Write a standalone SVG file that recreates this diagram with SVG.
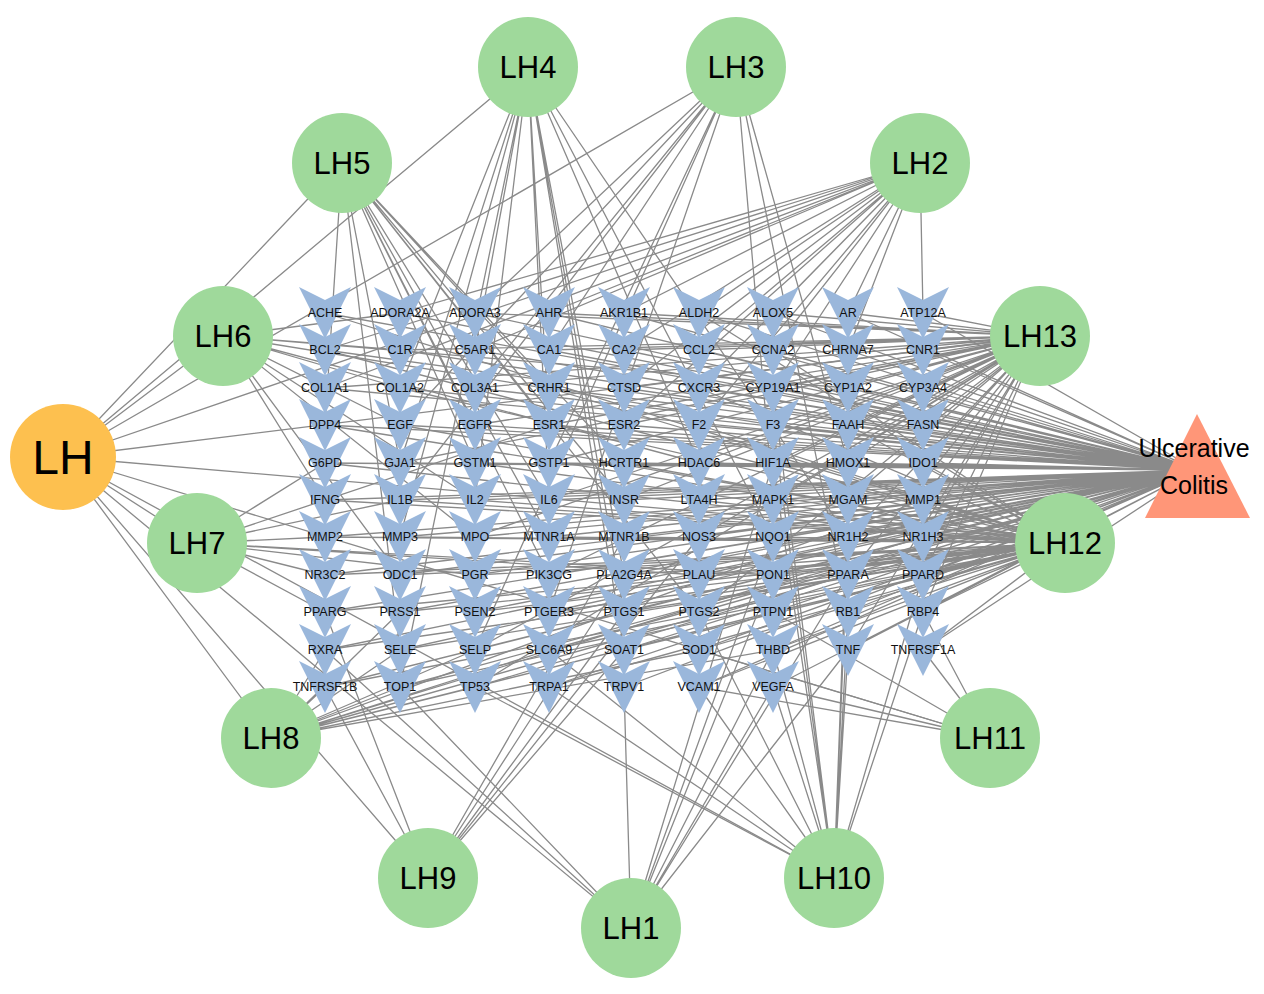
<svg xmlns="http://www.w3.org/2000/svg" xmlns:xlink="http://www.w3.org/1999/xlink" width="1264" height="994" viewBox="0 0 1264 994">
<style>
.e{fill:none;stroke:#8a8a8a;stroke-width:1.3}
.c{fill:#9FD99B}
.h{fill:#FDC04F}
.t{fill:#FF9678}
.v{fill:#9AB7DB}
.lt{font-family:"Liberation Sans",Arial,sans-serif;font-size:12.5px;fill:#111;text-anchor:middle;dominant-baseline:central}
.lc{font-family:"Liberation Sans",Arial,sans-serif;font-size:31px;fill:#000;text-anchor:middle;dominant-baseline:central}
</style>
<defs>
<path id="chev" d="M-26,-26 L0,-13 L26,-26 L0,26 Z"/>
</defs>
<rect width="1264" height="994" fill="#fff"/>
<g id="edges">
<path class="e" id="e-LH" d="M63 457L631 928M63 457L920 163M63 457L736 67M63 457L528 67M63 457L342 163M63 457L223 336M63 457L197 543M63 457L271 738M63 457L428 878M63 457L834 878M63 457L990 738M63 457L1065 543M63 457L1040 336"/>
<path class="e" id="e-LH4" d="M528 67L400 388M528 67L400 687M528 67L475 500M528 67L549 500M528 67L624 612M528 67L624 650M528 67L624 575M528 67L475 350M528 67L549 425M528 67L400 537M528 67L699 463M528 67L773 537M528 67L848 537M528 67L400 463"/>
<path class="e" id="e-LH3" d="M736 67L549 350M736 67L549 463M736 67L400 425M736 67L475 388M736 67L475 313M736 67L400 500M736 67L549 612M736 67L848 463M736 67L848 612M736 67L773 500M736 67L475 650"/>
<path class="e" id="e-LH2" d="M920 163L923 313M920 163L400 313M920 163L549 313M920 163L624 313M920 163L699 313M920 163L773 313M920 163L848 313M920 163L699 350M920 163L773 350M920 163L848 350M920 163L624 350M920 163L475 350M920 163L325 388M920 163L325 350M920 163L624 388M920 163L773 388M920 163L624 425M920 163L699 425M920 163L699 388"/>
<path class="e" id="e-LH5" d="M342 163L325 425M342 163L400 463M342 163L475 425M342 163L549 388M342 163L549 425M342 163L475 463M342 163L549 500M342 163L549 537M342 163L549 575M342 163L699 612M342 163L624 500M342 163L624 463M342 163L400 650"/>
<path class="e" id="e-LH6" d="M223 336L400 313M223 336L400 350M223 336L400 388M223 336L400 425M223 336L699 463M223 336L848 388M223 336L773 425M223 336L325 500M223 336L475 500M223 336L475 537M223 336L400 575"/>
<path class="e" id="e-LH7" d="M197 543L325 537M197 543L325 575M197 543L475 575M197 543L699 575M197 543L400 500M197 543L325 463M197 543L549 425M197 543L773 575M197 543L325 612"/>
<path class="e" id="e-LH8" d="M271 738L325 687M271 738L400 687M271 738L475 687M271 738L325 650M271 738L400 650M271 738L475 650M271 738L549 650M271 738L699 650M271 738L773 650M271 738L773 612M271 738L848 575M271 738L923 537M271 738L923 500M271 738L400 612"/>
<path class="e" id="e-LH9" d="M428 878L325 687M428 878L325 612M428 878L624 650M428 878L624 612M428 878L624 575M428 878L699 537M428 878L624 537"/>
<path class="e" id="e-LH1" d="M631 928L624 687M631 928L773 687M631 928L773 650M631 928L773 575M631 928L773 537M631 928L848 650M631 928L848 575M631 928L400 687M631 928L325 650M631 928L773 463"/>
<path class="e" id="e-LH10" d="M834 878L699 687M834 878L549 687M834 878L549 650M834 878L773 687M834 878L773 650M834 878L848 650M834 878L923 575M834 878L923 612M834 878L848 500M834 878L773 463M834 878L773 425M834 878L773 388M834 878L848 612M834 878L475 687M834 878L848 537M834 878L699 612"/>
<path class="e" id="e-LH11" d="M990 738L923 650M990 738L923 612M990 738L699 687M990 738L699 650M990 738L773 612M990 738L773 687"/>
<path class="e" id="e-LH13" d="M1040 336L475 313M1040 336L549 313M1040 336L624 313M1040 336L773 313M1040 336L848 313M1040 336L923 313M1040 336L400 350M1040 336L549 350M1040 336L624 350M1040 336L699 350M1040 336L848 350M1040 336L923 350M1040 336L325 388M1040 336L475 388M1040 336L624 388M1040 336L773 388M1040 336L848 388M1040 336L923 388M1040 336L475 425M1040 336L549 425M1040 336L624 425M1040 336L773 425M1040 336L848 425M1040 336L923 425M1040 336L400 463M1040 336L549 463M1040 336L699 463M1040 336L773 463M1040 336L848 463M1040 336L923 463M1040 336L549 500M1040 336L624 500M1040 336L773 500M1040 336L848 500M1040 336L923 500M1040 336L475 537M1040 336L699 537M1040 336L848 537M1040 336L923 537M1040 336L549 575M1040 336L848 575M1040 336L923 575M1040 336L699 612M1040 336L923 612M1040 336L475 650M1040 336L848 650M1040 336L475 687"/>
<path class="e" id="e-LH12" d="M1065 543L325 313M1065 543L699 313M1065 543L325 350M1065 543L773 350M1065 543L400 388M1065 543L549 388M1065 543L699 388M1065 543L325 425M1065 543L400 425M1065 543L699 425M1065 543L848 425M1065 543L325 463M1065 543L475 463M1065 543L624 463M1065 543L773 463M1065 543L923 463M1065 543L325 500M1065 543L400 500M1065 543L475 500M1065 543L699 500M1065 543L923 500M1065 543L325 537M1065 543L400 537M1065 543L549 537M1065 543L624 537M1065 543L773 537M1065 543L923 537M1065 543L325 575M1065 543L400 575M1065 543L475 575M1065 543L624 575M1065 543L699 575M1065 543L773 575M1065 543L923 575M1065 543L325 612M1065 543L400 612M1065 543L475 612M1065 543L549 612M1065 543L624 612M1065 543L773 612M1065 543L848 612M1065 543L923 612M1065 543L325 650M1065 543L400 650M1065 543L549 650M1065 543L624 650M1065 543L699 650M1065 543L773 650M1065 543L923 650M1065 543L325 687M1065 543L400 687M1065 543L549 687M1065 543L699 687"/>
<path class="e" id="e-UC" d="M1197 470L325 313M1197 470L400 313M1197 470L475 313M1197 470L549 313M1197 470L624 313M1197 470L699 313M1197 470L773 313M1197 470L848 313M1197 470L923 313M1197 470L325 350M1197 470L400 350M1197 470L475 350M1197 470L549 350M1197 470L624 350M1197 470L699 350M1197 470L773 350M1197 470L848 350M1197 470L923 350M1197 470L325 388M1197 470L400 388M1197 470L475 388M1197 470L549 388M1197 470L624 388M1197 470L699 388M1197 470L773 388M1197 470L848 388M1197 470L923 388M1197 470L325 425M1197 470L400 425M1197 470L475 425M1197 470L549 425M1197 470L624 425M1197 470L699 425M1197 470L773 425M1197 470L848 425M1197 470L923 425M1197 470L325 463M1197 470L400 463M1197 470L475 463M1197 470L549 463M1197 470L624 463M1197 470L699 463M1197 470L773 463M1197 470L848 463M1197 470L923 463M1197 470L325 500M1197 470L400 500M1197 470L475 500M1197 470L549 500M1197 470L624 500M1197 470L699 500M1197 470L773 500M1197 470L848 500M1197 470L923 500M1197 470L325 537M1197 470L400 537M1197 470L475 537M1197 470L549 537M1197 470L624 537M1197 470L699 537M1197 470L773 537M1197 470L848 537M1197 470L923 537M1197 470L325 575M1197 470L400 575M1197 470L475 575M1197 470L549 575M1197 470L624 575M1197 470L699 575M1197 470L773 575M1197 470L848 575M1197 470L923 575M1197 470L325 612M1197 470L400 612M1197 470L475 612M1197 470L549 612M1197 470L624 612M1197 470L699 612M1197 470L773 612M1197 470L848 612M1197 470L923 612M1197 470L325 650M1197 470L400 650M1197 470L475 650M1197 470L549 650M1197 470L624 650M1197 470L699 650M1197 470L773 650M1197 470L848 650M1197 470L923 650M1197 470L325 687M1197 470L400 687M1197 470L475 687M1197 470L549 687M1197 470L624 687M1197 470L699 687M1197 470L773 687"/>
</g>
<g id="targets">
<g id="t-ACHE"><use href="#chev" class="v" x="325" y="313"/><text class="lt" x="325" y="313">ACHE</text></g>
<g id="t-ADORA2A"><use href="#chev" class="v" x="400" y="313"/><text class="lt" x="400" y="313">ADORA2A</text></g>
<g id="t-ADORA3"><use href="#chev" class="v" x="475" y="313"/><text class="lt" x="475" y="313">ADORA3</text></g>
<g id="t-AHR"><use href="#chev" class="v" x="549" y="313"/><text class="lt" x="549" y="313">AHR</text></g>
<g id="t-AKR1B1"><use href="#chev" class="v" x="624" y="313"/><text class="lt" x="624" y="313">AKR1B1</text></g>
<g id="t-ALDH2"><use href="#chev" class="v" x="699" y="313"/><text class="lt" x="699" y="313">ALDH2</text></g>
<g id="t-ALOX5"><use href="#chev" class="v" x="773" y="313"/><text class="lt" x="773" y="313">ALOX5</text></g>
<g id="t-AR"><use href="#chev" class="v" x="848" y="313"/><text class="lt" x="848" y="313">AR</text></g>
<g id="t-ATP12A"><use href="#chev" class="v" x="923" y="313"/><text class="lt" x="923" y="313">ATP12A</text></g>
<g id="t-BCL2"><use href="#chev" class="v" x="325" y="350"/><text class="lt" x="325" y="350">BCL2</text></g>
<g id="t-C1R"><use href="#chev" class="v" x="400" y="350"/><text class="lt" x="400" y="350">C1R</text></g>
<g id="t-C5AR1"><use href="#chev" class="v" x="475" y="350"/><text class="lt" x="475" y="350">C5AR1</text></g>
<g id="t-CA1"><use href="#chev" class="v" x="549" y="350"/><text class="lt" x="549" y="350">CA1</text></g>
<g id="t-CA2"><use href="#chev" class="v" x="624" y="350"/><text class="lt" x="624" y="350">CA2</text></g>
<g id="t-CCL2"><use href="#chev" class="v" x="699" y="350"/><text class="lt" x="699" y="350">CCL2</text></g>
<g id="t-CCNA2"><use href="#chev" class="v" x="773" y="350"/><text class="lt" x="773" y="350">CCNA2</text></g>
<g id="t-CHRNA7"><use href="#chev" class="v" x="848" y="350"/><text class="lt" x="848" y="350">CHRNA7</text></g>
<g id="t-CNR1"><use href="#chev" class="v" x="923" y="350"/><text class="lt" x="923" y="350">CNR1</text></g>
<g id="t-COL1A1"><use href="#chev" class="v" x="325" y="388"/><text class="lt" x="325" y="388">COL1A1</text></g>
<g id="t-COL1A2"><use href="#chev" class="v" x="400" y="388"/><text class="lt" x="400" y="388">COL1A2</text></g>
<g id="t-COL3A1"><use href="#chev" class="v" x="475" y="388"/><text class="lt" x="475" y="388">COL3A1</text></g>
<g id="t-CRHR1"><use href="#chev" class="v" x="549" y="388"/><text class="lt" x="549" y="388">CRHR1</text></g>
<g id="t-CTSD"><use href="#chev" class="v" x="624" y="388"/><text class="lt" x="624" y="388">CTSD</text></g>
<g id="t-CXCR3"><use href="#chev" class="v" x="699" y="388"/><text class="lt" x="699" y="388">CXCR3</text></g>
<g id="t-CYP19A1"><use href="#chev" class="v" x="773" y="388"/><text class="lt" x="773" y="388">CYP19A1</text></g>
<g id="t-CYP1A2"><use href="#chev" class="v" x="848" y="388"/><text class="lt" x="848" y="388">CYP1A2</text></g>
<g id="t-CYP3A4"><use href="#chev" class="v" x="923" y="388"/><text class="lt" x="923" y="388">CYP3A4</text></g>
<g id="t-DPP4"><use href="#chev" class="v" x="325" y="425"/><text class="lt" x="325" y="425">DPP4</text></g>
<g id="t-EGF"><use href="#chev" class="v" x="400" y="425"/><text class="lt" x="400" y="425">EGF</text></g>
<g id="t-EGFR"><use href="#chev" class="v" x="475" y="425"/><text class="lt" x="475" y="425">EGFR</text></g>
<g id="t-ESR1"><use href="#chev" class="v" x="549" y="425"/><text class="lt" x="549" y="425">ESR1</text></g>
<g id="t-ESR2"><use href="#chev" class="v" x="624" y="425"/><text class="lt" x="624" y="425">ESR2</text></g>
<g id="t-F2"><use href="#chev" class="v" x="699" y="425"/><text class="lt" x="699" y="425">F2</text></g>
<g id="t-F3"><use href="#chev" class="v" x="773" y="425"/><text class="lt" x="773" y="425">F3</text></g>
<g id="t-FAAH"><use href="#chev" class="v" x="848" y="425"/><text class="lt" x="848" y="425">FAAH</text></g>
<g id="t-FASN"><use href="#chev" class="v" x="923" y="425"/><text class="lt" x="923" y="425">FASN</text></g>
<g id="t-G6PD"><use href="#chev" class="v" x="325" y="463"/><text class="lt" x="325" y="463">G6PD</text></g>
<g id="t-GJA1"><use href="#chev" class="v" x="400" y="463"/><text class="lt" x="400" y="463">GJA1</text></g>
<g id="t-GSTM1"><use href="#chev" class="v" x="475" y="463"/><text class="lt" x="475" y="463">GSTM1</text></g>
<g id="t-GSTP1"><use href="#chev" class="v" x="549" y="463"/><text class="lt" x="549" y="463">GSTP1</text></g>
<g id="t-HCRTR1"><use href="#chev" class="v" x="624" y="463"/><text class="lt" x="624" y="463">HCRTR1</text></g>
<g id="t-HDAC6"><use href="#chev" class="v" x="699" y="463"/><text class="lt" x="699" y="463">HDAC6</text></g>
<g id="t-HIF1A"><use href="#chev" class="v" x="773" y="463"/><text class="lt" x="773" y="463">HIF1A</text></g>
<g id="t-HMOX1"><use href="#chev" class="v" x="848" y="463"/><text class="lt" x="848" y="463">HMOX1</text></g>
<g id="t-IDO1"><use href="#chev" class="v" x="923" y="463"/><text class="lt" x="923" y="463">IDO1</text></g>
<g id="t-IFNG"><use href="#chev" class="v" x="325" y="500"/><text class="lt" x="325" y="500">IFNG</text></g>
<g id="t-IL1B"><use href="#chev" class="v" x="400" y="500"/><text class="lt" x="400" y="500">IL1B</text></g>
<g id="t-IL2"><use href="#chev" class="v" x="475" y="500"/><text class="lt" x="475" y="500">IL2</text></g>
<g id="t-IL6"><use href="#chev" class="v" x="549" y="500"/><text class="lt" x="549" y="500">IL6</text></g>
<g id="t-INSR"><use href="#chev" class="v" x="624" y="500"/><text class="lt" x="624" y="500">INSR</text></g>
<g id="t-LTA4H"><use href="#chev" class="v" x="699" y="500"/><text class="lt" x="699" y="500">LTA4H</text></g>
<g id="t-MAPK1"><use href="#chev" class="v" x="773" y="500"/><text class="lt" x="773" y="500">MAPK1</text></g>
<g id="t-MGAM"><use href="#chev" class="v" x="848" y="500"/><text class="lt" x="848" y="500">MGAM</text></g>
<g id="t-MMP1"><use href="#chev" class="v" x="923" y="500"/><text class="lt" x="923" y="500">MMP1</text></g>
<g id="t-MMP2"><use href="#chev" class="v" x="325" y="537"/><text class="lt" x="325" y="537">MMP2</text></g>
<g id="t-MMP3"><use href="#chev" class="v" x="400" y="537"/><text class="lt" x="400" y="537">MMP3</text></g>
<g id="t-MPO"><use href="#chev" class="v" x="475" y="537"/><text class="lt" x="475" y="537">MPO</text></g>
<g id="t-MTNR1A"><use href="#chev" class="v" x="549" y="537"/><text class="lt" x="549" y="537">MTNR1A</text></g>
<g id="t-MTNR1B"><use href="#chev" class="v" x="624" y="537"/><text class="lt" x="624" y="537">MTNR1B</text></g>
<g id="t-NOS3"><use href="#chev" class="v" x="699" y="537"/><text class="lt" x="699" y="537">NOS3</text></g>
<g id="t-NQO1"><use href="#chev" class="v" x="773" y="537"/><text class="lt" x="773" y="537">NQO1</text></g>
<g id="t-NR1H2"><use href="#chev" class="v" x="848" y="537"/><text class="lt" x="848" y="537">NR1H2</text></g>
<g id="t-NR1H3"><use href="#chev" class="v" x="923" y="537"/><text class="lt" x="923" y="537">NR1H3</text></g>
<g id="t-NR3C2"><use href="#chev" class="v" x="325" y="575"/><text class="lt" x="325" y="575">NR3C2</text></g>
<g id="t-ODC1"><use href="#chev" class="v" x="400" y="575"/><text class="lt" x="400" y="575">ODC1</text></g>
<g id="t-PGR"><use href="#chev" class="v" x="475" y="575"/><text class="lt" x="475" y="575">PGR</text></g>
<g id="t-PIK3CG"><use href="#chev" class="v" x="549" y="575"/><text class="lt" x="549" y="575">PIK3CG</text></g>
<g id="t-PLA2G4A"><use href="#chev" class="v" x="624" y="575"/><text class="lt" x="624" y="575">PLA2G4A</text></g>
<g id="t-PLAU"><use href="#chev" class="v" x="699" y="575"/><text class="lt" x="699" y="575">PLAU</text></g>
<g id="t-PON1"><use href="#chev" class="v" x="773" y="575"/><text class="lt" x="773" y="575">PON1</text></g>
<g id="t-PPARA"><use href="#chev" class="v" x="848" y="575"/><text class="lt" x="848" y="575">PPARA</text></g>
<g id="t-PPARD"><use href="#chev" class="v" x="923" y="575"/><text class="lt" x="923" y="575">PPARD</text></g>
<g id="t-PPARG"><use href="#chev" class="v" x="325" y="612"/><text class="lt" x="325" y="612">PPARG</text></g>
<g id="t-PRSS1"><use href="#chev" class="v" x="400" y="612"/><text class="lt" x="400" y="612">PRSS1</text></g>
<g id="t-PSEN2"><use href="#chev" class="v" x="475" y="612"/><text class="lt" x="475" y="612">PSEN2</text></g>
<g id="t-PTGER3"><use href="#chev" class="v" x="549" y="612"/><text class="lt" x="549" y="612">PTGER3</text></g>
<g id="t-PTGS1"><use href="#chev" class="v" x="624" y="612"/><text class="lt" x="624" y="612">PTGS1</text></g>
<g id="t-PTGS2"><use href="#chev" class="v" x="699" y="612"/><text class="lt" x="699" y="612">PTGS2</text></g>
<g id="t-PTPN1"><use href="#chev" class="v" x="773" y="612"/><text class="lt" x="773" y="612">PTPN1</text></g>
<g id="t-RB1"><use href="#chev" class="v" x="848" y="612"/><text class="lt" x="848" y="612">RB1</text></g>
<g id="t-RBP4"><use href="#chev" class="v" x="923" y="612"/><text class="lt" x="923" y="612">RBP4</text></g>
<g id="t-RXRA"><use href="#chev" class="v" x="325" y="650"/><text class="lt" x="325" y="650">RXRA</text></g>
<g id="t-SELE"><use href="#chev" class="v" x="400" y="650"/><text class="lt" x="400" y="650">SELE</text></g>
<g id="t-SELP"><use href="#chev" class="v" x="475" y="650"/><text class="lt" x="475" y="650">SELP</text></g>
<g id="t-SLC6A9"><use href="#chev" class="v" x="549" y="650"/><text class="lt" x="549" y="650">SLC6A9</text></g>
<g id="t-SOAT1"><use href="#chev" class="v" x="624" y="650"/><text class="lt" x="624" y="650">SOAT1</text></g>
<g id="t-SOD1"><use href="#chev" class="v" x="699" y="650"/><text class="lt" x="699" y="650">SOD1</text></g>
<g id="t-THBD"><use href="#chev" class="v" x="773" y="650"/><text class="lt" x="773" y="650">THBD</text></g>
<g id="t-TNF"><use href="#chev" class="v" x="848" y="650"/><text class="lt" x="848" y="650">TNF</text></g>
<g id="t-TNFRSF1A"><use href="#chev" class="v" x="923" y="650"/><text class="lt" x="923" y="650">TNFRSF1A</text></g>
<g id="t-TNFRSF1B"><use href="#chev" class="v" x="325" y="687"/><text class="lt" x="325" y="687">TNFRSF1B</text></g>
<g id="t-TOP1"><use href="#chev" class="v" x="400" y="687"/><text class="lt" x="400" y="687">TOP1</text></g>
<g id="t-TP53"><use href="#chev" class="v" x="475" y="687"/><text class="lt" x="475" y="687">TP53</text></g>
<g id="t-TRPA1"><use href="#chev" class="v" x="549" y="687"/><text class="lt" x="549" y="687">TRPA1</text></g>
<g id="t-TRPV1"><use href="#chev" class="v" x="624" y="687"/><text class="lt" x="624" y="687">TRPV1</text></g>
<g id="t-VCAM1"><use href="#chev" class="v" x="699" y="687"/><text class="lt" x="699" y="687">VCAM1</text></g>
<g id="t-VEGFA"><use href="#chev" class="v" x="773" y="687"/><text class="lt" x="773" y="687">VEGFA</text></g>
</g>
<g id="compounds">
<g id="LH4"><circle class="c" cx="528" cy="67" r="50"/><text class="lc" x="528" y="67">LH4</text></g>
<g id="LH3"><circle class="c" cx="736" cy="67" r="50"/><text class="lc" x="736" y="67">LH3</text></g>
<g id="LH5"><circle class="c" cx="342" cy="163" r="50"/><text class="lc" x="342" y="163">LH5</text></g>
<g id="LH2"><circle class="c" cx="920" cy="163" r="50"/><text class="lc" x="920" y="163">LH2</text></g>
<g id="LH6"><circle class="c" cx="223" cy="336" r="50"/><text class="lc" x="223" y="336">LH6</text></g>
<g id="LH13"><circle class="c" cx="1040" cy="336" r="50"/><text class="lc" x="1040" y="336">LH13</text></g>
<g id="LH7"><circle class="c" cx="197" cy="543" r="50"/><text class="lc" x="197" y="543">LH7</text></g>
<g id="LH12"><circle class="c" cx="1065" cy="543" r="50"/><text class="lc" x="1065" y="543">LH12</text></g>
<g id="LH8"><circle class="c" cx="271" cy="738" r="50"/><text class="lc" x="271" y="738">LH8</text></g>
<g id="LH11"><circle class="c" cx="990" cy="738" r="50"/><text class="lc" x="990" y="738">LH11</text></g>
<g id="LH9"><circle class="c" cx="428" cy="878" r="50"/><text class="lc" x="428" y="878">LH9</text></g>
<g id="LH10"><circle class="c" cx="834" cy="878" r="50"/><text class="lc" x="834" y="878">LH10</text></g>
<g id="LH1"><circle class="c" cx="631" cy="928" r="50"/><text class="lc" x="631" y="928">LH1</text></g>
</g>
<g id="LH"><circle class="h" cx="63" cy="457" r="53"/><text class="lc" x="63" y="457" style="font-size:48px">LH</text></g>
<g id="UC"><polygon class="t" points="1197,414 1145,518 1250,518"/><text class="lc" x="1194" y="448" style="font-size:25px">Ulcerative</text><text class="lc" x="1194" y="485" style="font-size:25px">Colitis</text></g>
</svg>
